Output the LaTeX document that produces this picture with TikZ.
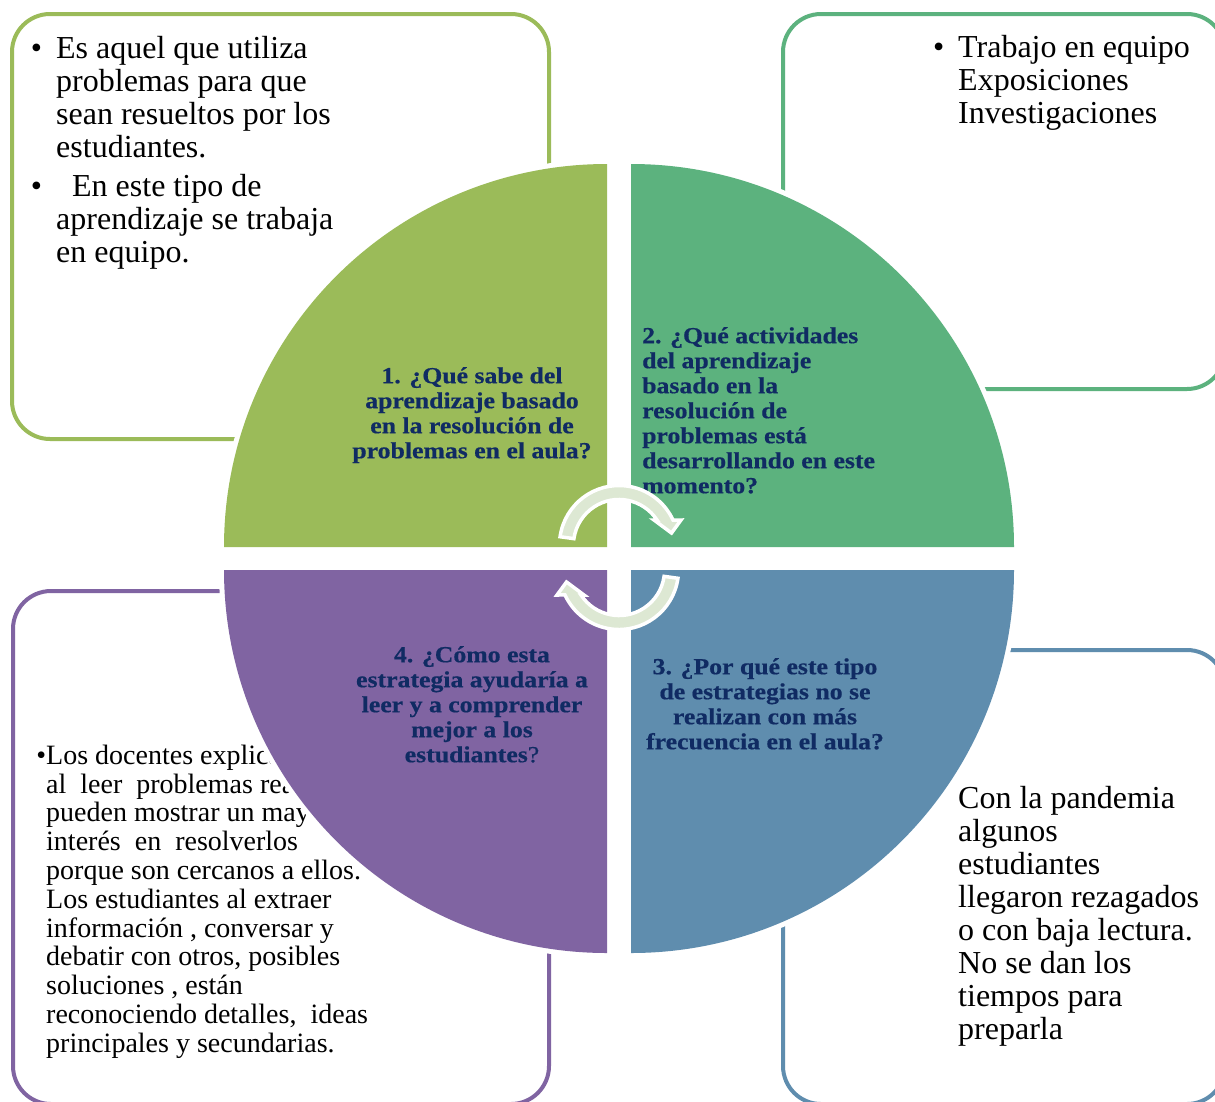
\documentclass[tikz,border=0pt]{standalone}
\usepackage{fontspec}
\setmainfont{Liberation Serif}
\newfontfamily\qfont[FakeStretch=1.12,FakeBold=0.6]{Liberation Serif}
\definecolor{cTL}{RGB}{155,187,89}
\definecolor{cTR}{RGB}{92,178,126}
\definecolor{cBR}{RGB}{95,141,174}
\definecolor{cBL}{RGB}{128,100,162}
\definecolor{arrowc}{RGB}{221,232,211}
\definecolor{qtext}{RGB}{16,43,99}
\tikzset{
  boxline/.style={draw=#1, line width=4pt, rounded corners=38pt},
  halo/.style={draw=white, line width=10pt},
  boxtext/.style={inner sep=0pt, font=\fontsize{32}{33}\selectfont, text=black},
  smalltext/.style={inner sep=0pt, font=\fontsize{28}{28.8}\selectfont, text=black},
  qlabel/.style={inner sep=0pt, font=\qfont\bfseries\fontsize{23}{25}\selectfont, text=qtext},
  cyc/.style={fill=arrowc, draw=white, line width=3.5pt, line join=miter}
}
\newcommand\fstr[1]{\rule{0pt}{#1}}
\begin{document}
\begin{tikzpicture}[x=1pt,y=1pt]
\useasboundingbox (0,0) rectangle (1215,-1101);
\fill[white] (0,0) rectangle (1215,-1101);
\clip (0,0) rectangle (1215,-1101);

% outer boxes
\draw[boxline=cTL] (12,-14) rectangle (549,-439);
\draw[boxline=cTR] (783,-14) rectangle (1225,-389);
\draw[boxline=cBR] (783,-650) rectangle (1225,-1104);
\draw[boxline=cBL] (13,-591) rectangle (549,-1104);

% box texts
\node[boxtext, anchor=north west, align=left] (t1) at (56,-32)
  {\fstr{26pt}\llap{\textbullet\hspace{14pt}}Es aquel que utiliza\\
   problemas para que\\
   sean resueltos por los\\
   estudiantes.\\[6pt]
   \llap{\textbullet\hspace{14pt}}\hspace{16pt}En este tipo de\\
   aprendizaje se trabaja\\
   en equipo.};
\node[boxtext, anchor=north west, align=left] (t2) at (958,-31)
  {\fstr{26pt}\llap{\textbullet\hspace{14pt}}Trabajo en equipo\\
   Exposiciones\\
   Investigaciones};
\node[boxtext, anchor=north west, align=left] (t3) at (958,-782)
  {\fstr{26pt}Con la pandemia\\
   algunos\\
   estudiantes\\
   llegaron rezagados\\
   o con baja lectura.\\
   No se dan los\\
   tiempos para\\
   preparla};
\node[smalltext, anchor=north west, align=left] (t4) at (46,-740)
  {\fstr{24pt}\llap{\textbullet}Los docentes explican que\\
   al\ \ leer\ \ problemas reales\\
   pueden mostrar un mayor\\
   interés\ \ en\ \ resolverlos\\
   porque son cercanos a ellos.\\
   Los estudiantes al extraer\\
   información , conversar y\\
   debatir con otros, posibles\\
   soluciones , están\\
   reconociendo detalles,\ \ ideas\\
   principales y secundarias.};

% quadrant halos
\path[halo] (607,-547) -- (224,-547) arc[start angle=180,end angle=90,radius=383] -- cycle;
\path[halo] (631,-547) -- (631,-164) arc[start angle=90,end angle=0,radius=383] -- cycle;
\path[halo] (631,-570) -- (1014,-570) arc[start angle=0,end angle=-90,radius=383] -- cycle;
\path[halo] (607,-570) -- (607,-953) arc[start angle=270,end angle=180,radius=383] -- cycle;
% quadrant fills
\fill[cTL] (607,-547) -- (224,-547) arc[start angle=180,end angle=90,radius=383] -- cycle;
\fill[cTR] (631,-547) -- (631,-164) arc[start angle=90,end angle=0,radius=383] -- cycle;
\fill[cBR] (631,-570) -- (1014,-570) arc[start angle=0,end angle=-90,radius=383] -- cycle;
\fill[cBL] (607,-570) -- (607,-953) arc[start angle=270,end angle=180,radius=383] -- cycle;

% quadrant labels
\node[qlabel, anchor=north, align=center] (q1) at (472,-363)
  {\fstr{20pt}1. ¿Qué sabe del\\
   aprendizaje basado\\
   en la resolución de\\
   problemas en el aula?};
\node[qlabel, anchor=north west, align=left] (q2) at (642,-323)
  {\fstr{20pt}2. ¿Qué actividades\\
   del aprendizaje\\
   basado en la\\
   resolución de\\
   problemas está\\
   desarrollando en este\\
   momento?};
\node[qlabel, anchor=north, align=center] (q3) at (765,-654)
  {\fstr{20pt}3. ¿Por qué este tipo\\
   de estrategias no se\\
   realizan con más\\
   frecuencia en el aula?};
\node[qlabel, anchor=north, align=center] (q4) at (472,-642)
  {\fstr{20pt}4. ¿Cómo esta\\
   estrategia ayudaría a\\
   leer y a comprender\\
   mejor a los\\
   estudiantes{\mdseries ?}};

% circular arrows
\begin{scope}[shift={(619,-545)}]
\path[cyc] (172:59.5) arc[start angle=172,end angle=24.8,radius=59.5]
  -- (62,25) -- (52.5,12) -- (35,25) -- (38,25)
  arc[start angle=33.3,end angle=172,radius=45.5] -- cycle;
\end{scope}
\begin{scope}[shift={(619,-557.5)},rotate=180,shift={(0,12.5)}]
\path[cyc] (172:59.5) arc[start angle=172,end angle=24.8,radius=59.5]
  -- (62,25) -- (52.5,12) -- (35,25) -- (38,25)
  arc[start angle=33.3,end angle=172,radius=45.5] -- cycle;
\end{scope}
\end{tikzpicture}
\end{document}
